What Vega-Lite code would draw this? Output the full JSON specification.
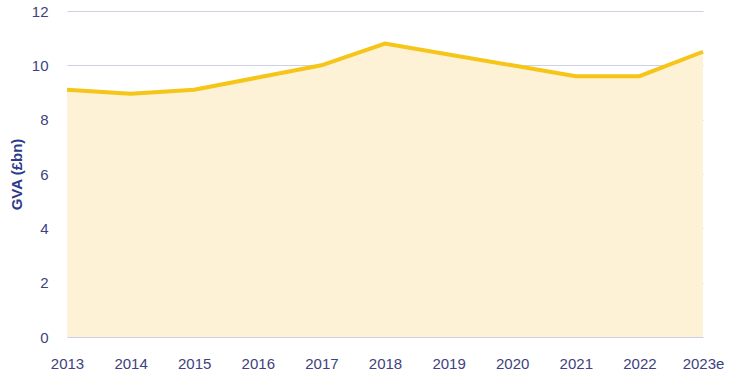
{
  "$schema": "https://vega.github.io/schema/vega-lite/v6.json",
  "width": 636,
  "height": 326,
  "autosize": "none",
  "padding": {"left": 67, "top": 11, "right": 32, "bottom": 43},
  "background": "white",
  "config": {
    "view": {"stroke": null},
    "font": "Liberation Sans"
  },
  "data": {
    "values": [
      {"year": "2013", "gva": 9.1},
      {"year": "2014", "gva": 8.95},
      {"year": "2015", "gva": 9.1},
      {"year": "2016", "gva": 9.55},
      {"year": "2017", "gva": 10.0},
      {"year": "2018", "gva": 10.8},
      {"year": "2019", "gva": 10.4},
      {"year": "2020", "gva": 10.0},
      {"year": "2021", "gva": 9.6},
      {"year": "2022", "gva": 9.6},
      {"year": "2023e", "gva": 10.5}
    ]
  },
  "encoding": {
    "x": {
      "field": "year",
      "type": "ordinal",
      "scale": {"type": "point", "padding": 0},
      "axis": {
        "title": null,
        "labelAngle": 0,
        "domain": false,
        "ticks": false,
        "grid": false,
        "labelPadding": 19,
        "labelFontSize": 15,
        "labelColor": "#3d4280"
      }
    },
    "y": {
      "field": "gva",
      "type": "quantitative",
      "scale": {"domain": [0, 12], "nice": false},
      "axis": {
        "title": "GVA (£bn)",
        "values": [0, 2, 4, 6, 8, 10, 12],
        "domain": false,
        "ticks": false,
        "grid": true,
        "gridColor": "#cfcfe6",
        "gridWidth": 1,
        "labelPadding": 19,
        "labelFontSize": 15,
        "labelColor": "#3d4280",
        "titleFontSize": 15,
        "titleFontWeight": "bold",
        "titleColor": "#2e3a8c",
        "titlePadding": 7
      }
    }
  },
  "layer": [
    {
      "mark": {"type": "area", "color": "#fdf1d6", "opacity": 1}
    },
    {
      "mark": {"type": "line", "color": "#f5c518", "strokeWidth": 4, "strokeJoin": "miter"}
    }
  ]
}
